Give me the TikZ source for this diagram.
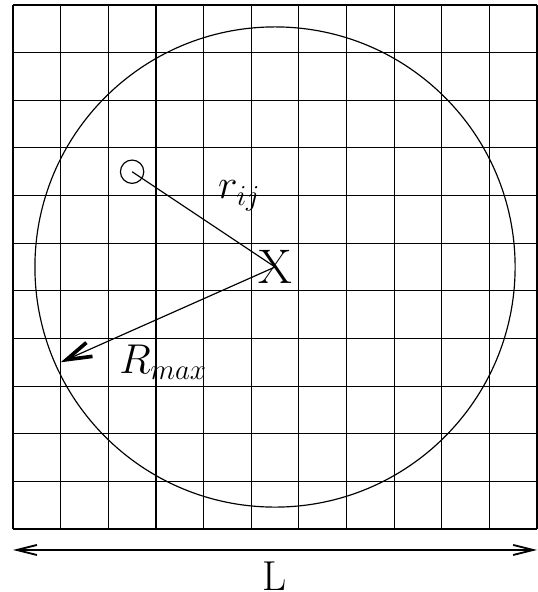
\documentclass[tikz,border=0pt]{standalone}
\usetikzlibrary{positioning,arrows.meta}

\tikzset{
  lbl/.style={font=\fontsize{25}{30}\selectfont},
  thinbarb/.tip={Straight Barb[length=12pt,width=6pt,line width=1.1pt]},
  fatbarb/.tip={Straight Barb[length=15pt,width=9pt,line width=2.2pt]}
}

\begin{document}
\begin{tikzpicture}[x=1cm,y=1cm,line width=0.7pt]
  \useasboundingbox (-0.273,-1.322) rectangle (11.02,11.105);
  \draw (0,0) grid (11,11);
  \node[rectangle,draw,minimum size=1cm,inner sep=0pt,font=\fontsize{29}{34}\selectfont] (X) at (5.5,5.5) {X};
  \node[circle,draw,minimum size=0.49cm,inner sep=0pt] (atom) at (2.5,7.5) {};
  \coordinate (rim) at (1,3.5);
  \draw (X.center) circle (5.04);
  \draw (atom.center) -- (X.center) node [pos=0.75,above=0.55cm,lbl] {$r_{ij}$};
  \draw[-fatbarb] (X.center) -- (rim);
  \node[lbl] (rmax) at (3.15,3.5) {$R_{max}$};
  \coordinate (left) at (0,-0.44);
  \coordinate (right) at (11,-0.44);
  \draw[thinbarb-thinbarb] (left) -- (right);
  \node[lbl] (length) at (5.5,-0.98) {L};
\end{tikzpicture}
\end{document}
